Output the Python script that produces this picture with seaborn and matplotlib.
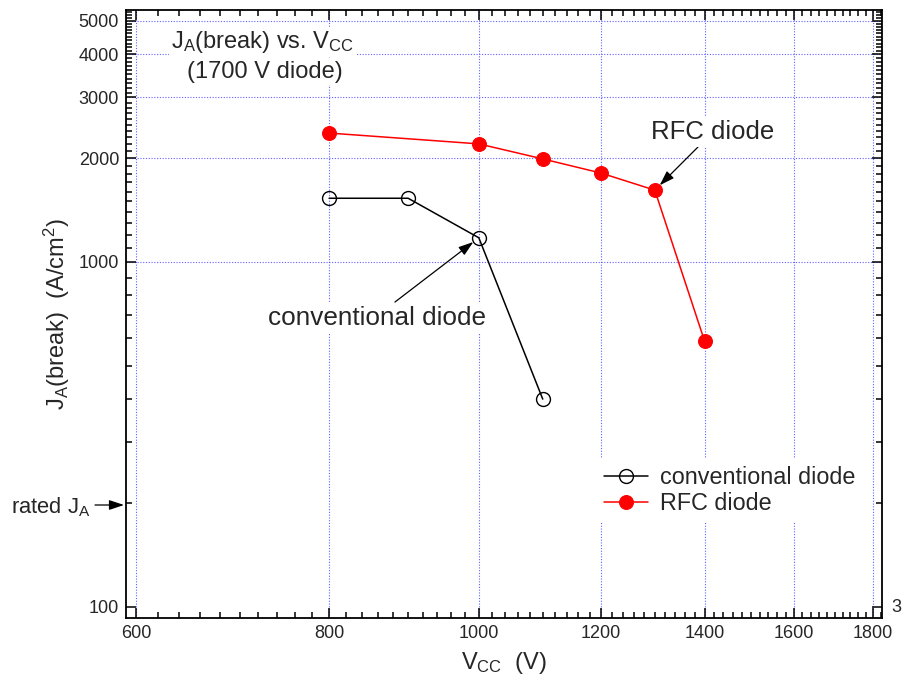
import matplotlib
matplotlib.use("Agg")
import matplotlib.pyplot as plt
import seaborn as sns
import pandas as pd
import numpy as np
from matplotlib.ticker import FixedLocator, NullFormatter, FixedFormatter

# ---- data ----
conv_vcc = [800, 900, 1000, 1100]
conv_ja = [1530, 1530, 1175, 400]
rfc_vcc = [800, 1000, 1100, 1200, 1300, 1400]
rfc_ja = [2365, 2200, 1990, 1810, 1615, 590]
rated_ja = 200
x_ticks = [600, 800, 1000, 1200, 1400, 1600, 1800]
y_ticks = [100, 1000, 2000, 3000, 4000, 5000]
y_ticklabels = ["100", "1000", "2000", "3000", "4000", "5000"]

sns.set_style("white")
plt.rcParams['font.family'] = ['Liberation Sans', 'DejaVu Sans']
plt.rcParams['mathtext.default'] = 'regular'

W, H = 905, 684
fig = plt.figure(figsize=(W / 100, H / 100), dpi=100)
ax = fig.add_axes([126 / W, 1 - 618 / H, (882 - 126) / W, (618 - 10) / H])

df_conv = pd.DataFrame({"VCC": conv_vcc, "JA": conv_ja})
df_rfc = pd.DataFrame({"VCC": rfc_vcc, "JA": rfc_ja})

ax.set_xscale("log")
ax.set_yscale("log")

sns.lineplot(data=df_conv, x="VCC", y="JA", ax=ax, color="black", lw=1.1,
             marker="o", markersize=10, markerfacecolor="none",
             markeredgecolor="black", markeredgewidth=1.0,
             label="conventional diode", zorder=4)
sns.lineplot(data=df_rfc, x="VCC", y="JA", ax=ax, color="red", lw=1.1,
             marker="o", markersize=10, markerfacecolor="red",
             markeredgecolor="red", label="RFC diode", zorder=4)

ax.set_xlim(591, 1824)
ax.set_ylim(92.7, 5380)

ax.xaxis.set_major_locator(FixedLocator(x_ticks))
ax.xaxis.set_major_formatter(FixedFormatter([str(v) for v in x_ticks]))
ax.xaxis.set_minor_locator(FixedLocator([v for v in range(600, 1821, 20) if v not in x_ticks]))
ax.xaxis.set_minor_formatter(NullFormatter())
ax.yaxis.set_major_locator(FixedLocator(y_ticks))
ax.yaxis.set_major_formatter(FixedFormatter(y_ticklabels))
ax.yaxis.set_minor_locator(FixedLocator([v for v in range(100, 5400, 100) if v not in y_ticks]))
ax.yaxis.set_minor_formatter(NullFormatter())

ax.tick_params(which="both", direction="in", top=True, right=True,
               bottom=True, left=True, color="black", width=1.1)
ax.tick_params(which="major", length=7.5, labelsize=13, pad=5)
ax.tick_params(which="minor", length=4.5)
for s in ax.spines.values():
    s.set_color("black")
    s.set_linewidth(1.3)

# grid
gkw = dict(color="#3a3aff", lw=0.8, ls=(0, (1, 1.5)), alpha=0.8, zorder=0)
for xv in x_ticks:
    ax.axvline(xv, **gkw)
for yv in y_ticks[1:]:
    ax.axhline(yv, **gkw)

ax.set_xlabel("V$_{CC}$  (V)", fontsize=17, labelpad=6)
ax.set_ylabel("J$_A$(break)  (A/cm$^2$)", fontsize=17, labelpad=5)

# title text box
wb = dict(facecolor="white", edgecolor="none", pad=1.5)
fig.text(263 / W, 1 - 42 / H, "J$_A$(break) vs. V$_{CC}$", fontsize=17,
         ha="center", va="center", bbox=wb, zorder=5)
fig.text(265 / W, 1 - 72 / H, "(1700 V diode)", fontsize=17,
         ha="center", va="center", bbox=wb, zorder=5)

# annotations
akw = dict(arrowstyle="-|>,head_length=0.9,head_width=0.3", color="black", lw=0.9)
fig.text(377 / W, 1 - 318 / H, "conventional diode", fontsize=18.8,
         ha="center", va="center", bbox=dict(facecolor="white", edgecolor="none", pad=2), zorder=5)
ax.annotate("", xy=(conv_vcc[2], conv_ja[2]), xycoords="data",
            xytext=(395 / W, 1 - 302 / H), textcoords="figure fraction",
            arrowprops=dict(shrinkA=0, shrinkB=5, **akw), zorder=6)

fig.text(713 / W, 1 - 132 / H, "RFC diode", fontsize=18.5,
         ha="center", va="center", bbox=dict(facecolor="white", edgecolor="none", pad=2), zorder=5)
ax.annotate("", xy=(rfc_vcc[4], rfc_ja[4]), xycoords="data",
            xytext=(698 / W, 1 - 147 / H), textcoords="figure fraction",
            arrowprops=dict(shrinkA=0, shrinkB=5, **akw), zorder=6)

# rated J_A
fig.text(11 / W, 1 - 507 / H, "rated J$_A$", fontsize=15.8, ha="left", va="center")
ax.annotate("", xy=(124 / W, 1 - 505 / H), xycoords="figure fraction",
            xytext=(95 / W, 1 - 505 / H), textcoords="figure fraction",
            arrowprops=dict(shrinkA=0, shrinkB=0, **akw), annotation_clip=False)

# stray right label
fig.text(891 / W, 1 - 608 / H, "3", fontsize=13, ha="left", va="center")

leg = ax.legend(loc="upper left", bbox_to_anchor=(585 / W, 1 - 447 / H),
                bbox_transform=fig.transFigure, fontsize=16.8, frameon=True,
                facecolor="white", edgecolor="none", framealpha=1,
                handlelength=1.9, handletextpad=0.5, labelspacing=0.15,
                borderpad=0.3, fancybox=False)
leg.set_zorder(5)

fig.savefig("out.png", dpi=100)
